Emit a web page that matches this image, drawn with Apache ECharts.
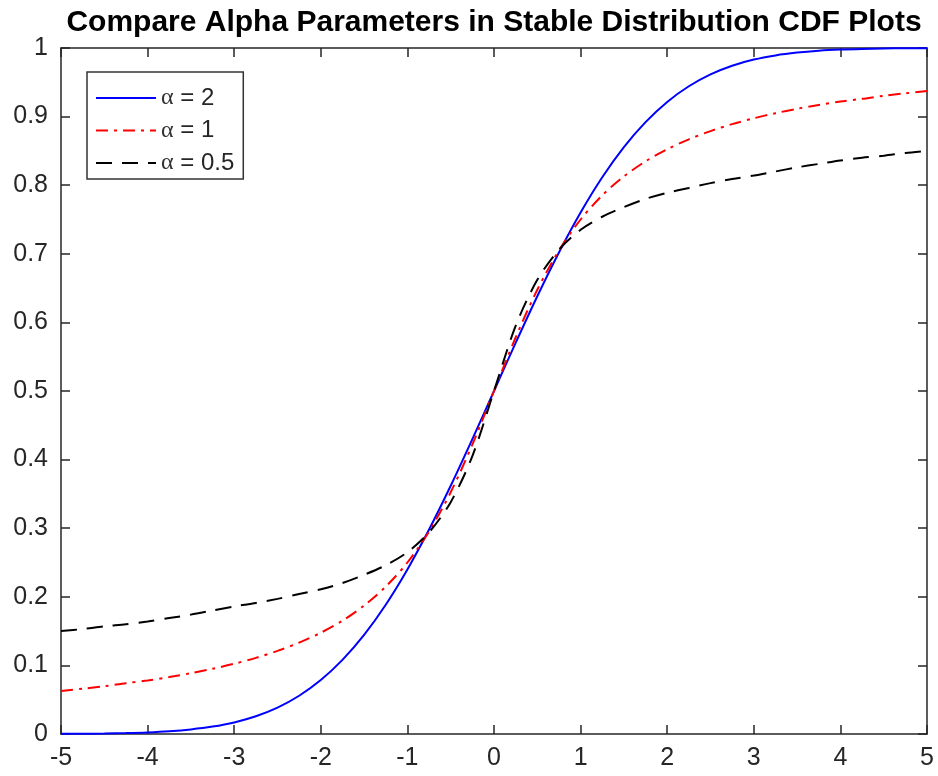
<!DOCTYPE html>
<html><head><meta charset="utf-8">
<script src="https://cdn.jsdelivr.net/npm/echarts@6/dist/echarts.min.js"></script>
<style>html,body{margin:0;padding:0;background:#fff}#c{width:938px;height:776px}</style>
</head><body><div id="c"></div>
<script>
const xValues = [-5,-4.75,-4.5,-4.25,-4,-3.75,-3.5,-3.25,-3,-2.75,-2.5,-2.25,-2,-1.75,-1.5,-1.25,-1,-0.75,-0.5,-0.25,0,
                 0.25,0.5,0.75,1,1.25,1.5,1.75,2,2.25,2.5,2.75,3,3.25,3.5,3.75,4,4.25,4.5,4.75,5];
const alpha2 = [0.0002,0.0004,0.0007,0.0013,0.0023,0.004,0.0067,0.0108,0.0169,0.0259,0.0385,0.0558,0.0786,0.108,0.1444,0.1884,0.2398,0.298,0.3618,0.4298,0.5,
                0.5702,0.6382,0.702,0.7602,0.8116,0.8556,0.892,0.9214,0.9442,0.9615,0.9741,0.9831,0.9892,0.9933,0.996,0.9977,0.9987,0.9993,0.9996,0.9998];
const alpha1 = [0.0628,0.066,0.0696,0.0741,0.078,0.083,0.0886,0.095,0.1024,0.111,0.1211,0.1331,0.1476,0.1652,0.1872,0.2148,0.25,0.2952,0.3524,0.422,0.5,
                0.578,0.6476,0.7048,0.75,0.7852,0.8128,0.8348,0.8524,0.8669,0.8789,0.889,0.8976,0.905,0.9114,0.917,0.922,0.9259,0.9304,0.934,0.9372];
const alpha05 = [0.150,0.153,0.157,0.160,0.164,0.169,0.174,0.180,0.186,0.191,0.197,0.204,0.211,0.220,0.232,0.246,0.265,0.294,0.338,0.405,0.5,
                 0.595,0.662,0.706,0.735,0.754,0.768,0.780,0.789,0.796,0.803,0.809,0.814,0.820,0.826,0.831,0.836,0.840,0.843,0.847,0.850];
const seriesNames = ['α = 2','α = 1','α = 0.5'];
const titleText = 'Compare Alpha Parameters in Stable Distribution CDF Plots';

const pairs = arr => xValues.map((x,i)=>[x,arr[i]]);
const axisColor = '#262626';
const labelFont = {fontFamily:'Liberation Sans, Arial, sans-serif', fontSize:25, color:axisColor};
const chart = echarts.init(document.getElementById('c'), null, {renderer:'canvas'});
chart.setOption({
  animation:false,
  backgroundColor:'#fff',
  title:{text:titleText, left:489, top:3, textAlign:'center',
    textStyle:{fontFamily:'Liberation Sans, Arial, sans-serif', fontWeight:'bold', fontSize:30, color:'#000'}},
  grid:{left:61, right:11, top:48, bottom:42, containLabel:false},
  legend:{
    data:seriesNames, orient:'vertical', left:87, top:72,
    itemWidth:60, itemHeight:14, itemGap:8.5,
    padding:[14,9,4,8],
    borderColor:'#333', borderWidth:1.5, backgroundColor:'#fff',
    itemStyle:{opacity:0},
    formatter: n => '{a|α}{b|' + n.slice(1) + '}',
    textStyle:{rich:{
      a:{fontFamily:'Liberation Serif, serif', fontSize:24, color:'#333', lineHeight:24},
      b:{fontFamily:'Liberation Sans, Arial, sans-serif', fontSize:24, color:'#262626', lineHeight:24}
    }}
  },
  xAxis:[
    {type:'value', min:-5, max:5, interval:1, position:'bottom',
     axisLine:{show:true, onZero:false, lineStyle:{color:axisColor, width:1.5}},
     axisTick:{show:true, inside:true, length:9, lineStyle:{color:axisColor, width:1.5}},
     axisLabel:Object.assign({margin:12}, labelFont),
     splitLine:{show:false}},
    {type:'value', min:-5, max:5, interval:1, position:'top',
     axisLine:{show:true, onZero:false, lineStyle:{color:axisColor, width:1.5}},
     axisTick:{show:true, inside:true, length:9, lineStyle:{color:axisColor, width:1.5}},
     axisLabel:{show:false}, splitLine:{show:false}}
  ],
  yAxis:[
    {type:'value', min:0, max:1, interval:0.1, position:'left',
     axisLine:{show:true, onZero:false, lineStyle:{color:axisColor, width:1.5}},
     axisTick:{show:true, inside:true, length:9, lineStyle:{color:axisColor, width:1.5}},
     axisLabel:Object.assign({margin:13}, labelFont),
     splitLine:{show:false}},
    {type:'value', min:0, max:1, interval:0.1, position:'right',
     axisLine:{show:true, onZero:false, lineStyle:{color:axisColor, width:1.5}},
     axisTick:{show:true, inside:true, length:9, lineStyle:{color:axisColor, width:1.5}},
     axisLabel:{show:false}, splitLine:{show:false}}
  ],
  series:[
    {name:seriesNames[0], type:'line', data:pairs(alpha2), smooth:0.3, symbol:'none',
     lineStyle:{color:'#0000ff', width:2}, itemStyle:{color:'#0000ff'}},
    {name:seriesNames[1], type:'line', data:pairs(alpha1), smooth:0.3, symbol:'none',
     lineStyle:{color:'#ff0000', width:2, type:[12,6,3,6]}, itemStyle:{color:'#ff0000'}},
    {name:seriesNames[2], type:'line', data:pairs(alpha05), smooth:0.3, symbol:'none',
     lineStyle:{color:'#000000', width:2, type:[16,10]}, itemStyle:{color:'#000000'}}
  ]
});
</script></body></html>
